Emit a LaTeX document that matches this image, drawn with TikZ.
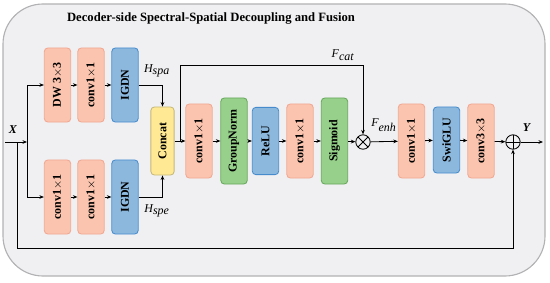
\documentclass[tikz,border=0pt]{standalone}
\usepackage{fontspec}
\usepackage{graphicx}
\setmainfont{Liberation Serif}
\usetikzlibrary{arrows.meta,positioning}
\definecolor{MyPanel}{RGB}{240,240,242}
\definecolor{MyPanelEdge}{RGB}{178,178,180}
\definecolor{MySalmon}{RGB}{251,196,174}
\definecolor{MySalmonEdge}{RGB}{240,168,146}
\definecolor{MySky}{RGB}{141,184,221}
\definecolor{MySkyEdge}{RGB}{70,140,205}
\definecolor{MyLeaf}{RGB}{150,208,138}
\definecolor{MyLeafEdge}{RGB}{104,168,92}
\definecolor{MyButter}{RGB}{255,233,148}
\definecolor{MyButterEdge}{RGB}{196,184,122}

\begin{document}
\begin{tikzpicture}[x=0.025cm, y=-0.025cm, >={Stealth[length=3.2pt,width=2.6pt]},
		block/.style={line width=0.6pt, rounded corners=2.5pt, inner sep=0pt,
			minimum width=0.66cm, minimum height=1.85cm,
			font=\fontsize{8.5}{10}\selectfont\bfseries},
		conv/.style={block, draw=MySalmonEdge, fill=MySalmon},
		norm/.style={block, draw=MySkyEdge, fill=MySky},
		gate/.style={block, draw=MyLeafEdge, fill=MyLeaf, minimum height=2.15cm},
		joint/.style={block, draw=MyButterEdge, fill=MyButter, minimum width=0.58cm, minimum height=1.7cm},
		op/.style={circle, draw, line width=0.6pt, minimum size=0.36cm, inner sep=0pt},
		lbl/.style={font=\fontsize{8.5}{10}\selectfont},
		arrow/.style={->, line width=0.6pt}]
		\useasboundingbox (0,0) rectangle (550,282);
		% panel
		\draw[MyPanelEdge, fill=MyPanel, line width=0.8pt, rounded corners=1cm] (3,4) rectangle (545,276);
		\node[font=\fontsize{9}{11}\selectfont\bfseries] (title) at (211,19)
			{Decoder-side Spectral-Spatial Decoupling and Fusion};
		% spatial branch
		\node[conv] (dw) at (57.5,85) {\rotatebox{90}{DW 3$\times$3}};
		\node[conv] (spaconv) at (91,85) {\rotatebox{90}{conv1$\times$1}};
		\node[norm] (spaigdn) at (125,85) {\rotatebox{90}{IGDN}};
		% spectral branch
		\node[conv] (speconva) at (57.5,197) {\rotatebox{90}{conv1$\times$1}};
		\node[conv] (speconvb) at (91,197) {\rotatebox{90}{conv1$\times$1}};
		\node[norm] (speigdn) at (125,197) {\rotatebox{90}{IGDN}};
		% fusion
		\node[joint] (concat) at (162.5,141) {\rotatebox{90}{Concat}};
		\node[conv] (fuseconva) at (199,141) {\rotatebox{90}{conv1$\times$1}};
		\node[gate] (gnorm) at (234,141) {\rotatebox{90}{GroupNorm}};
		\node[norm, minimum height=1.68cm] (relu) at (265.5,141) {\rotatebox{90}{ReLU}};
		\node[conv] (fuseconvb) at (300,141) {\rotatebox{90}{conv1$\times$1}};
		\node[gate] (sigm) at (334.5,141) {\rotatebox{90}{Sigmoid}};
		\node[op, path picture={\draw (path picture bounding box.north west) -- (path picture bounding box.south east)
			(path picture bounding box.north east) -- (path picture bounding box.south west);}] (mult) at (363,142) {};
		% refinement
		\node[conv] (refconva) at (411.5,141) {\rotatebox{90}{conv1$\times$1}};
		\node[norm, minimum height=1.65cm] (swiglu) at (446.5,140) {\rotatebox{90}{SwiGLU}};
		\node[conv] (refconvb) at (481,141) {\rotatebox{90}{conv3$\times$3}};
		\node[op, path picture={\draw (path picture bounding box.north) -- (path picture bounding box.south)
			(path picture bounding box.east) -- (path picture bounding box.west);}] (plus) at (513,142) {};
		% junctions
		\coordinate (xin) at (5,142);
		\coordinate (skip) at (17,142);
		\coordinate (split) at (27,142);
		\coordinate (skiplow) at (17,248);
		\coordinate (fcat) at (180,142);
		\coordinate (fcattop) at (180,65);
		\coordinate (yout) at (543,142);
		% labels
		\node[lbl] (xlbl) at (13,130) {\textbf{\textit{X}}};
		\node[lbl] (ylbl) at (527,128) {\textbf{\textit{Y}}};
		\node[lbl] (hspa) at (157,71) {$\textit{H}_{\textit{spa}}$};
		\node[lbl] (hspe) at (157,211) {$\textit{H}_{\textit{spe}}$};
		\node[lbl] (fcatlbl) at (343,55) {$\textit{F}_{\textit{cat}}$};
		\node[lbl] (fenhlbl) at (384,125) {$\textit{F}_{\textit{enh}}$};
		% connectors
		\draw[arrow] (xin) -- (split);
		\draw[arrow] (split) |- (dw.west);
		\draw[arrow] (split) |- (speconva.west);
		\draw[arrow] (dw) -- (spaconv);
		\draw[arrow] (spaconv) -- (spaigdn);
		\draw[arrow] (speconva) -- (speconvb);
		\draw[arrow] (speconvb) -- (speigdn);
		\draw[arrow] (spaigdn.east) -| (concat.north);
		\draw[arrow] (speigdn.east) -| (concat.south);
		\draw[arrow] (concat) -- (fuseconva);
		\draw[arrow] (fuseconva) -- (gnorm);
		\draw[arrow] (gnorm) -- (relu);
		\draw[arrow] (relu) -- (fuseconvb);
		\draw[arrow] (fuseconvb) -- (sigm);
		\draw[arrow] (sigm) -- (mult);
		\draw[arrow] (fcat) -- (fcattop) -| (mult.north);
		\draw[arrow] (mult) -- (refconva);
		\draw[arrow] (refconva) -- (swiglu);
		\draw[arrow] (swiglu) -- (refconvb);
		\draw[arrow] (refconvb) -- (plus);
		\draw[arrow] (plus) -- (yout);
		\draw[arrow] (skip) -- (skiplow) -| (plus.south);
	\end{tikzpicture}
\end{document}
